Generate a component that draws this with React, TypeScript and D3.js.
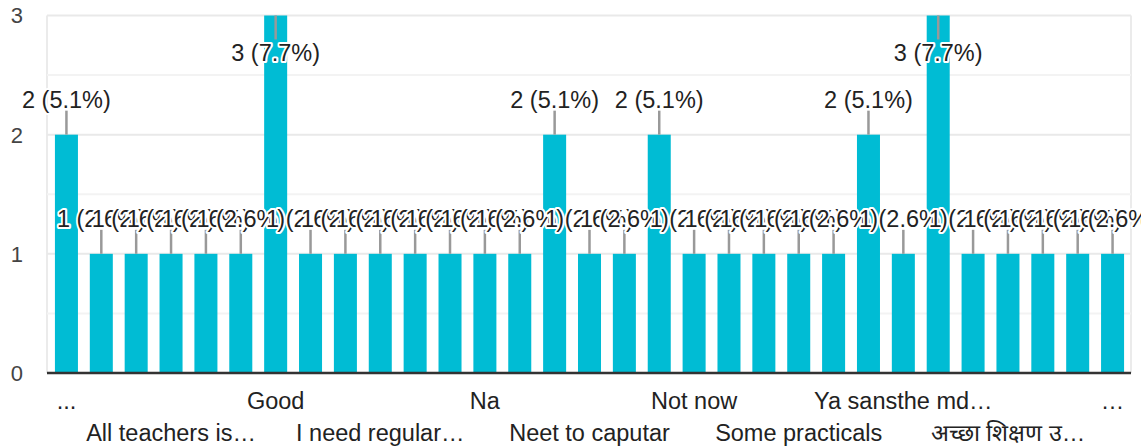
import React from "react";
import * as d3 from "d3";

const categories: string[] = [
  "...", "Activities", "All good", "All teachers is…", "Best", "Computer classes",
  "Good", "Good teaching", "Hostel facility", "I need regular…", "Improve labs", "Many things",
  "Na", "Nahi", "Need more teachers", "Neet to caputar", "Nil", "No",
  "Not now", "Nothing", "Sir", "Some practicals", "Teaching", "Very good",
  "Ya sansthe md…", "Yes", "Yes sir", "अच्छा शिक्षण उ…", "काही नाही", "नाही", "…",
];
const counts: number[] = [
  2, 1, 1, 1, 1, 1,
  3, 1, 1, 1, 1, 1,
  1, 1, 2, 1, 1, 2,
  1, 1, 1, 1, 1, 2,
  1, 3, 1, 1, 1, 1, 1,
];
const yTicks: number[] = [0, 1, 2, 3];
const gridValues: number[] = [0.5, 1, 1.5, 2, 2.5, 3];

const W = 1141;
const H = 448;
const frameL = 47;
const frameR = 1131;
const FONT = "Arial, 'Liberation Sans', sans-serif";
const BAR = "#00bcd4";

export default function App() {
  const total = d3.sum(counts);
  const x = d3.scaleBand<number>()
    .domain(d3.range(categories.length))
    .range([49, 1130])
    .paddingInner(0.34)
    .paddingOuter(0.17);
  const y = d3.scaleLinear().domain([0, 3]).range([373, 15.5]);
  const fmt = (v: number) => `${v} (${((v / total) * 100).toFixed(1)}%)`;

  return (
    <svg width={W} height={H} style={{ position: "absolute", left: 0, top: 0, background: "#fff" }}>
      {/* frame verticals */}
      <line x1={frameL} x2={frameL} y1={y(3)} y2={y(0)} stroke="#ebebeb" strokeWidth={2} />
      <line x1={frameR} x2={frameR} y1={y(3)} y2={y(0)} stroke="#ebebeb" strokeWidth={2} />
      {/* gridlines */}
      {gridValues.map((g) => (
        <line key={g} x1={frameL} x2={frameR} y1={y(g)} y2={y(g)}
          stroke={Number.isInteger(g) ? "#e9e9e9" : "#f3f3f3"} strokeWidth={2} />
      ))}
      {/* y labels */}
      {yTicks.map((t) => (
        <text key={t} x={23} y={y(t)} dy="0.36em" textAnchor="end" fontFamily={FONT} fontSize={22} fill="#444">{t}</text>
      ))}
      {/* bars */}
      {counts.map((v, i) => (
        <rect key={i} x={x(i)!} y={y(v)} width={x.bandwidth()} height={y(0) - y(v)} fill={BAR} />
      ))}
      {/* baseline */}
      <line x1={frameL} x2={frameR} y1={373} y2={373} stroke="#333" strokeWidth={2.5} />
      {/* leader lines */}
      {counts.map((v, i) => {
        const cx = x(i)! + x.bandwidth() / 2;
        const top = y(v);
        const inside = v === 3;
        return (
          <line key={i} x1={cx} x2={cx} y1={top} y2={inside ? top + 24 : top - 24} stroke="#999" strokeWidth={2.5} />
        );
      })}
      {/* data labels */}
      {counts.map((v, i) => {
        const cx = x(i)! + x.bandwidth() / 2;
        const top = y(v);
        const inside = v === 3;
        return (
          <text key={i} x={cx} y={inside ? top + 45.5 : top - 26.5} textAnchor="middle"
            fontFamily={FONT} fontSize={23.5} fill="#222" stroke="#fff" strokeWidth={4}
            strokeLinejoin="round" style={{ paintOrder: "stroke" }}>{fmt(v)}</text>
        );
      })}
      {/* x labels */}
      {categories.map((c, i) => {
        if (i % 3 !== 0) return null;
        const row = (i / 3) % 2;
        const cx = x(i)! + x.bandwidth() / 2;
        return (
          <text key={i} x={cx} y={row === 0 ? 409 : 441} textAnchor="middle" fontFamily={FONT} fontSize={23.5} fill="#222">{c}</text>
        );
      })}
    </svg>
  );
}
